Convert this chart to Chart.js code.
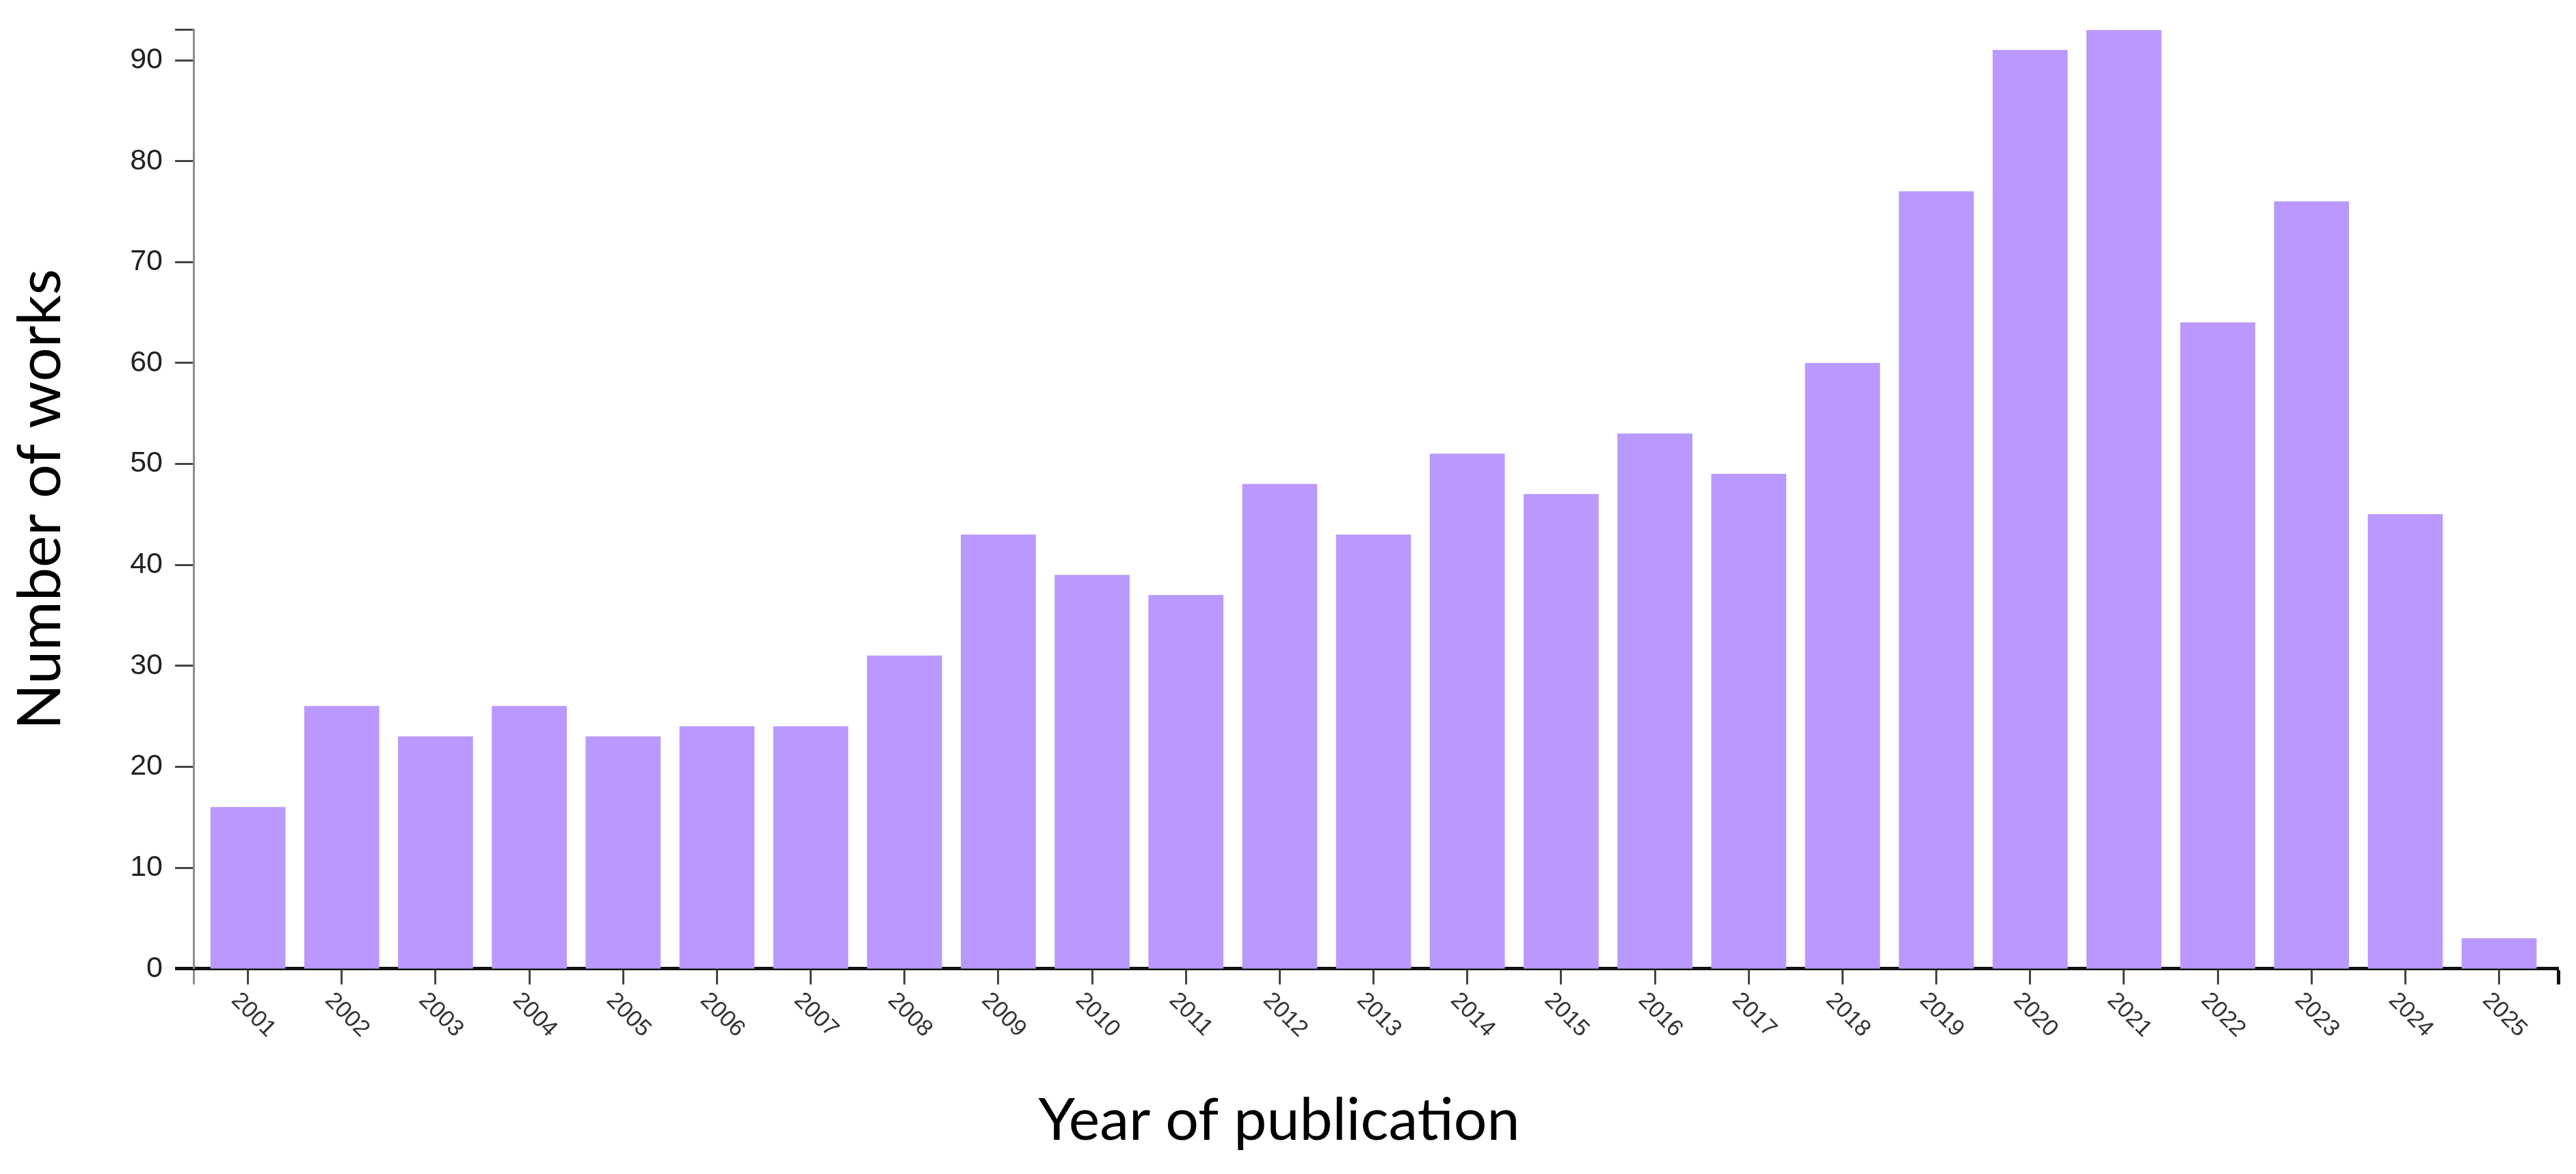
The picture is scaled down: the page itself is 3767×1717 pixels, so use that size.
<!DOCTYPE html>
<html>
<head>
<meta charset="utf-8">
<script src="https://cdn.jsdelivr.net/npm/chart.js@4.4.1/dist/chart.umd.min.js"></script>
<style>
  html, body { margin: 0; padding: 0; background: #ffffff; }
  #c { display: block; }
</style>
</head>
<body>
<canvas id="c" width="3767" height="1717"></canvas>
<script>
// ---- data ----
const years = [2001, 2002, 2003, 2004, 2005, 2006, 2007, 2008, 2009, 2010, 2011, 2012, 2013,
               2014, 2015, 2016, 2017, 2018, 2019, 2020, 2021, 2022, 2023, 2024, 2025];
const works = [16, 26, 23, 26, 23, 24, 24, 31, 43, 39, 37, 48, 43,
               51, 47, 53, 49, 60, 77, 91, 93, 64, 76, 45, 3];
const yTickValues = [0, 10, 20, 30, 40, 50, 60, 70, 80, 90];
const yAxisMax = 93;
const xAxisMin = 2000.42;
const xAxisMax = 2025.63;
const xTitle = 'Year of publication';
const yTitle = 'Number of works';

// ---- styling ----
const BAR_COLOR = '#B999FE';
const Y_AXIS_COLOR = '#8c8c8c';
const TICK_COLOR = '#444444';
const X_AXIS_COLOR = '#111111';

Chart.defaults.font.family = '"Liberation Sans", Arial, sans-serif';

const yearLabels = {
  id: 'yearLabels',
  afterDraw(chart) {
    const xs = chart.scales.x;
    const ctx = chart.ctx;
    const y0 = chart.chartArea.bottom + xs.options.grid.tickLength;
    ctx.save();
    ctx.font = '34px "Liberation Sans", Arial, sans-serif';
    ctx.fillStyle = '#333333';
    ctx.textAlign = 'left';
    ctx.textBaseline = 'middle';
    years.forEach(yr => {
      const px = xs.getPixelForValue(yr);
      ctx.save();
      ctx.translate(px - 19, y0 + 18);
      ctx.rotate(45 * Math.PI / 180);
      ctx.fillText(String(yr), 0, 0);
      ctx.restore();
    });
    ctx.restore();
  }
};

new Chart(document.getElementById('c'), {
  type: 'bar',
  data: {
    datasets: [{
      data: years.map((yr, i) => ({ x: yr, y: works[i] })),
      backgroundColor: BAR_COLOR,
      borderWidth: 0,
      barThickness: 109
    }]
  },
  options: {
    responsive: false,
    animation: false,
    devicePixelRatio: 1,
    layout: { padding: { top: 34, right: 26, bottom: 0, left: 0 } },
    plugins: {
      legend: { display: false },
      tooltip: { enabled: false },
      title: {
        display: true,
        text: xTitle,
        position: 'bottom',
        color: '#000000',
        font: { family: 'Lato', size: 86, weight: 'normal' },
        padding: { top: 0, bottom: 26 }
      }
    },
    scales: {
      x: {
        type: 'linear',
        min: xAxisMin,
        max: xAxisMax,
        offset: false,
        afterBuildTicks(scale) {
          scale.ticks = [xAxisMin].concat(years, [xAxisMax]).map(v => ({ value: v }));
        },
        afterFit(scale) { scale.height = 171; },
        ticks: { display: false },
        grid: {
          display: true,
          offset: false,
          drawOnChartArea: false,
          drawTicks: true,
          tickLength: 23,
          tickColor: ctx => ctx.tick && ctx.tick.value === xAxisMin ? Y_AXIS_COLOR
                          : (ctx.tick && ctx.tick.value === xAxisMax ? X_AXIS_COLOR : TICK_COLOR),
          tickWidth: ctx => ctx.tick && ctx.tick.value === xAxisMax ? 5 : 3
        },
        border: { display: true, color: X_AXIS_COLOR, width: 5 }
      },
      y: {
        type: 'linear',
        min: 0,
        max: yAxisMax,
        afterBuildTicks(scale) {
          scale.ticks = yTickValues.concat([yAxisMax]).map(v => ({ value: v }));
        },
        afterFit(scale) { scale.width = 283; },
        ticks: {
          color: '#222222',
          font: { size: 43 },
          padding: 18,
          callback: v => (yTickValues.includes(v) ? String(v) : '')
        },
        grid: {
          display: true,
          offset: false,
          drawOnChartArea: false,
          drawTicks: true,
          tickLength: 27,
          tickColor: ctx => ctx.tick && ctx.tick.value === 0 ? X_AXIS_COLOR : TICK_COLOR,
          tickWidth: ctx => ctx.tick && ctx.tick.value === 0 ? 5 : 3
        },
        border: { display: true, color: Y_AXIS_COLOR, width: 3 },
        title: {
          display: true,
          text: yTitle,
          color: '#000000',
          font: { family: 'Lato', size: 88, weight: 'normal' },
          padding: { top: 7, bottom: 0 }
        }
      }
    }
  },
  plugins: [yearLabels]
});
</script>
</body>
</html>
